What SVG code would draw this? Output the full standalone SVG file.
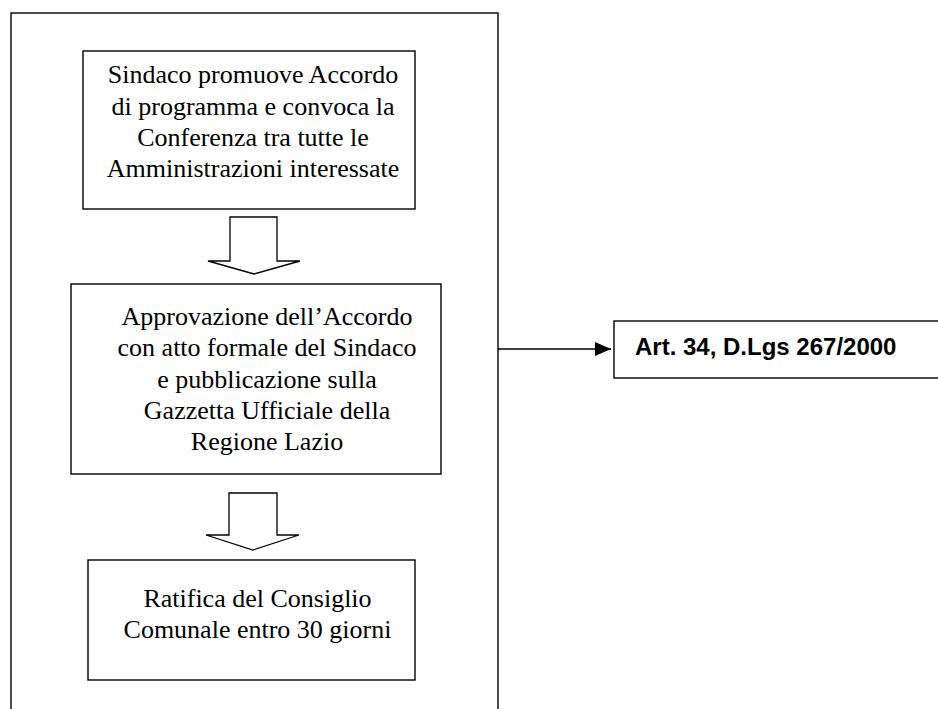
<svg xmlns="http://www.w3.org/2000/svg" width="938" height="709" viewBox="0 0 938 709">
<defs>
<style>
.box{fill:#fff;stroke:#000;stroke-width:1.4}
.blk{fill:#fff;stroke:#000;stroke-width:1.3;stroke-linejoin:miter}
.t{font-family:"Liberation Serif","Times New Roman",serif;font-size:26px;fill:#000;text-anchor:middle}
.b{font-family:"Liberation Sans",Arial,sans-serif;font-size:24px;font-weight:bold;fill:#000}
.ln{fill:none;stroke:#000;stroke-width:1.3}
</style>
<marker id="ah" markerWidth="16" markerHeight="14" refX="16" refY="7" orient="auto" markerUnits="userSpaceOnUse">
<path d="M0,0 L16,7 L0,14 Z" fill="#000"/>
</marker>
</defs>
<rect width="938" height="709" fill="#fff"/>
<g id="frame">
<rect class="box" x="11" y="13" width="487" height="710"/>
</g>
<g id="connectors">
<path class="blk" d="M230,217 H277 V261 H300 L254,274 L208,261 H230 Z"/>
<path class="blk" d="M229,493 H277 V535 H299 L253,550 L206,535 H229 Z"/>
<line class="ln" x1="498" y1="349" x2="611" y2="349" marker-end="url(#ah)"/>
</g>
<g id="node1">
<rect class="box" x="83" y="51" width="332" height="158"/>
<text class="t" x="253" y="83">Sindaco promuove Accordo</text>
<text class="t" x="253" y="114.5">di programma e convoca la</text>
<text class="t" x="253" y="146">Conferenza tra tutte le</text>
<text class="t" x="253" y="177">Amministrazioni interessate</text>
</g>
<g id="node2">
<rect class="box" x="71" y="284" width="370" height="190"/>
<text class="t" x="267" y="325">Approvazione dell’Accordo</text>
<text class="t" x="267" y="356">con atto formale del Sindaco</text>
<text class="t" x="267" y="387.5">e pubblicazione sulla</text>
<text class="t" x="267" y="419">Gazzetta Ufficiale della</text>
<text class="t" x="267" y="450">Regione Lazio</text>
</g>
<g id="node3">
<rect class="box" x="88" y="560" width="327" height="120"/>
<text class="t" x="257.5" y="607">Ratifica del Consiglio</text>
<text class="t" x="257.5" y="638">Comunale entro 30 giorni</text>
</g>
<g id="node4">
<rect class="box" x="614" y="321" width="340" height="57"/>
<text class="b" x="635" y="355">Art. 34, D.Lgs 267/2000</text>
</g>
</svg>
